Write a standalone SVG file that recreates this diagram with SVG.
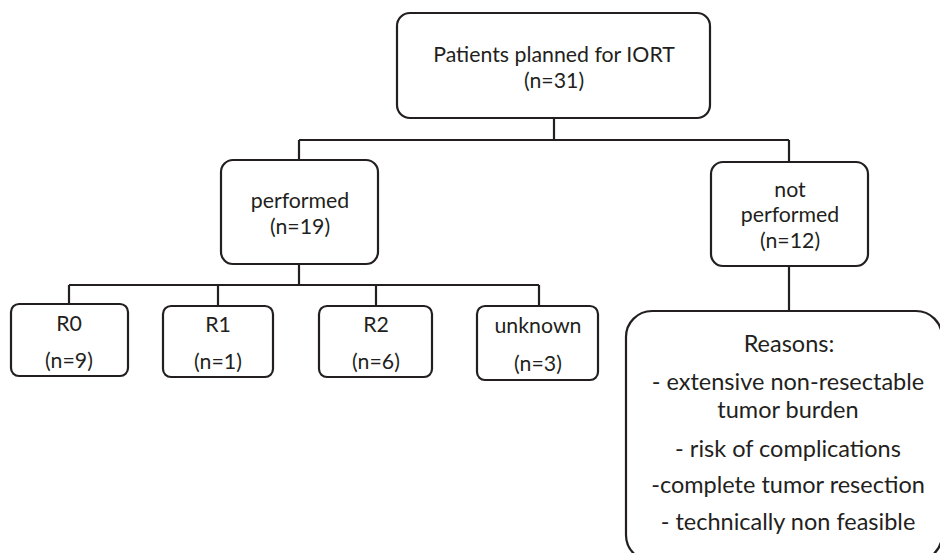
<svg xmlns="http://www.w3.org/2000/svg" width="940" height="553" viewBox="0 0 940 553">
<style>
.box{fill:#fff;stroke:#231f20;stroke-width:2.2}
.ln{fill:none;stroke:#231f20;stroke-width:2.2}
text{font-family:Lato,"Liberation Sans",sans-serif;fill:#231f20;text-anchor:middle;font-size:21.3px}
.rs{font-size:23.5px}
</style>
<rect width="940" height="553" fill="#fff"/>
<g id="connectors">
<path class="ln" d="M554 118V140M299 140H789M299 140V160M789 140V162"/>
<path class="ln" d="M299 264V285M69 285H539M69 285V304M218 285V306M376 285V306M539 285V306"/>
<path class="ln" d="M789 266V311"/>
</g>
<g id="top">
<rect class="box" x="397" y="13" width="313" height="105" rx="13"/>
<text x="554" y="62">Patients planned for IORT</text>
<text x="554" y="88">(n=31)</text>
</g>
<g id="performed">
<rect class="box" x="221" y="160" width="157" height="104" rx="12"/>
<text x="300" y="208">performed</text>
<text x="300" y="234">(n=19)</text>
</g>
<g id="notperformed">
<rect class="box" x="711" y="162" width="157" height="104" rx="12"/>
<text x="790" y="197">not</text>
<text x="790" y="222">performed</text>
<text x="790" y="248">(n=12)</text>
</g>
<g id="r0">
<rect class="box" x="11" y="304" width="117" height="72" rx="8"/>
<text x="69" y="331">R0</text>
<text x="69" y="368">(n=9)</text>
</g>
<g id="r1">
<rect class="box" x="163" y="306" width="110" height="71" rx="8"/>
<text x="218" y="332">R1</text>
<text x="218" y="369">(n=1)</text>
</g>
<g id="r2">
<rect class="box" x="319" y="306" width="113" height="71" rx="8"/>
<text x="376" y="332">R2</text>
<text x="376" y="369">(n=6)</text>
</g>
<g id="unknown">
<rect class="box" x="477" y="306" width="121" height="74" rx="8"/>
<text x="538" y="333">unknown</text>
<text x="538" y="371">(n=3)</text>
</g>
<g id="reasons">
<rect class="box" x="626" y="311" width="316" height="250" rx="26"/>
<text class="rs" x="789" y="352">Reasons:</text>
<text class="rs" x="788" y="390">- extensive non-resectable</text>
<text class="rs" x="788" y="418">tumor burden</text>
<text class="rs" x="788" y="457">- risk of complications</text>
<text class="rs" x="788" y="493">-complete tumor resection</text>
<text class="rs" x="788" y="530">- technically non feasible</text>
</g>
</svg>
